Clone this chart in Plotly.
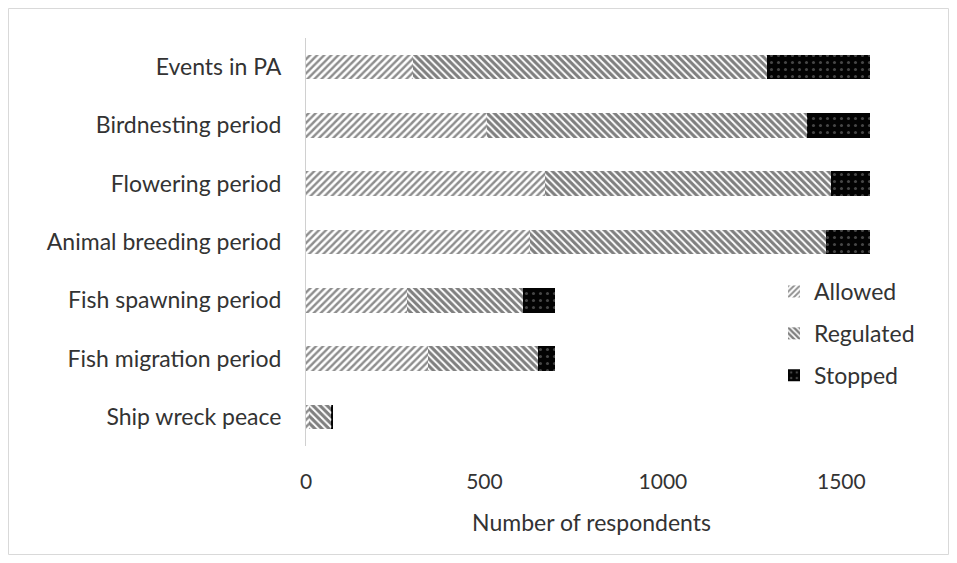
import plotly.graph_objects as go

categories = ["Events in PA", "Birdnesting period", "Flowering period",
              "Animal breeding period", "Fish spawning period",
              "Fish migration period", "Ship wreck peace"]
allowed = [300, 507, 669, 627, 283, 342, 8]
regulated = [991, 896, 802, 830, 325, 308, 62]
stopped = [289, 177, 109, 123, 89, 47, 6]
x_ticks = [0, 500, 1000, 1500]

# page body has an 8px margin, so the figure is drawn 8px in from the window edge
W, H = 941, 547
L, R, T, B = 298, 869, 30, 438

fig = go.Figure()
fig.add_trace(go.Bar(
    y=categories, x=allowed, name="Allowed", orientation="h", legendgroup="a",
    marker=dict(color="white", line=dict(width=0),
                pattern=dict(shape="/", fgcolor="#1e1e1e", bgcolor="white",
                             size=5, solidity=0.48))))
fig.add_trace(go.Bar(
    y=categories, x=regulated, name="Regulated", orientation="h", legendgroup="r",
    marker=dict(color="white", line=dict(width=0),
                pattern=dict(shape="\\", fgcolor="#000000", bgcolor="white",
                             size=5, solidity=0.62))))
fig.add_trace(go.Bar(
    y=categories, x=stopped, name="Stopped", orientation="h", legendgroup="s",
    marker=dict(color="black", line=dict(width=0),
                pattern=dict(shape=".", fgcolor="#8a8a8a", bgcolor="#030303",
                             size=7, solidity=0.15))))

pw = R - L
ph = B - T
fig.update_layout(
    width=W, height=H,
    barmode="stack", bargap=0.58,
    paper_bgcolor="white", plot_bgcolor="white",
    margin=dict(l=L, r=W - R, t=T, b=H - B, pad=0),
    font=dict(family="Lato, Open Sans, sans-serif", color="#333333", size=22),
    xaxis=dict(range=[0, 1600], tickvals=x_ticks, showgrid=False, zeroline=False,
               showline=False, ticks="", tickfont=dict(size=21),
               ticklabelstandoff=21,
               title=dict(text="Number of respondents", font=dict(size=23), standoff=22)),
    yaxis=dict(categoryorder="array", categoryarray=categories, autorange="reversed",
               showgrid=False, zeroline=False, showline=True, linecolor="#d0d0d0",
               linewidth=1, ticks="", tickfont=dict(size=23), ticklabelstandoff=19),
    legend=dict(x=468 / pw, y=(B - 262) / ph, xanchor="left", yanchor="top",
                bgcolor="rgba(0,0,0,0)", font=dict(size=23), tracegroupgap=9,
                itemwidth=30),
    shapes=[dict(type="rect", xref="paper", yref="paper",
                 x0=(0.5 - L) / pw, x1=(W - 0.5 - L) / pw,
                 y0=(B - H + 0.5) / ph, y1=(B - 0.5) / ph,
                 line=dict(color="#d9d9d9", width=1), fillcolor="rgba(0,0,0,0)",
                 layer="below")],
)

fig.write_html("out.html")
